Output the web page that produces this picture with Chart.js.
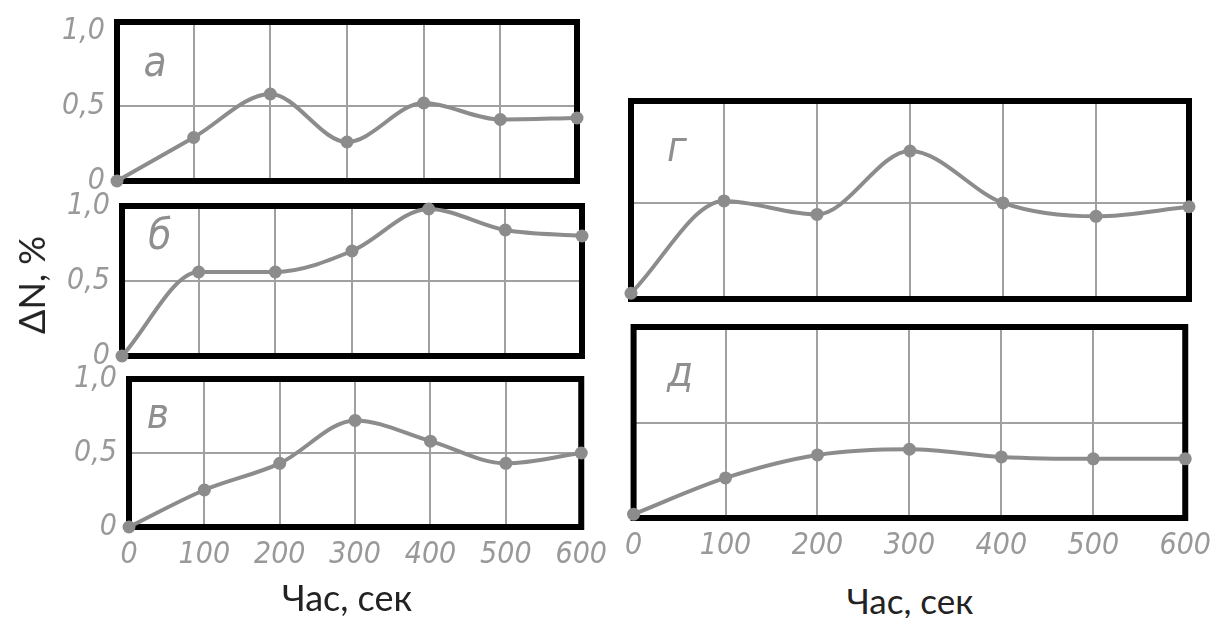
<!DOCTYPE html>
<html>
<head>
<meta charset="utf-8">
<script src="https://cdn.jsdelivr.net/npm/chart.js@4"></script>
<style>
html,body{margin:0;padding:0;background:#fff;overflow:hidden;}
#page{position:relative;width:1215px;height:618px;}
.panel{position:absolute;}
.letter{position:absolute;transform:translate(-50%,-50%);font-family:'Liberation Sans Narrow','DejaVu Sans Condensed',sans-serif;font-style:italic;color:#8f8f8f;font-size:42px;line-height:1;}
.title{position:absolute;transform:translate(-50%,-50%);font-family:Lato,'Open Sans',sans-serif;color:#222;white-space:nowrap;line-height:1;}
</style>
</head>
<body>
<div id="page"></div>
<script>
// data
const times = ['0', '100', '200', '300', '400', '500', '600'];
const valuesA = [0, 0.29, 0.58, 0.26, 0.52, 0.41, 0.42];
const valuesB = [0, 0.56, 0.56, 0.70, 0.98, 0.84, 0.80];
const valuesV = [0, 0.25, 0.43, 0.72, 0.58, 0.43, 0.50];
const valuesG = [0.03, 0.51, 0.44, 0.77, 0.50, 0.43, 0.48];
const valuesD = [0.02, 0.21, 0.33, 0.36, 0.32, 0.31, 0.31];
const yTicks = [0, 0.5, 1.0];
const yTickLabels = ['0', '0,5', '1,0'];
const letters = ['а', 'б', 'в', 'г', 'д'];

const grey = '#8c8c8c';
const gridGrey = '#a0a0a0';
const tickFont = {family: "'Liberation Sans Narrow', 'DejaVu Sans Condensed', sans-serif", style: 'italic', size: 30};

const page = document.getElementById('page');

const framePlugin = {
    id: 'frame',
    beforeDatasetsDraw(chart){
        const a = chart.chartArea;
        const ctx = chart.ctx;
        ctx.save();
        ctx.lineWidth = 6;
        ctx.strokeStyle = '#000';
        ctx.strokeRect(a.left, a.top, a.right - a.left, a.bottom - a.top);
        ctx.restore();
    }
};

// frame = [left, top, right, bottom] in page pixels
const panels = [
    {values: valuesA, frame: [117, 22, 577, 181], yMax: 1.06, yLabels: true, xLabels: false, letterPos: [155, 62]},
    {values: valuesB, frame: [122, 206, 582, 356], yMax: 1.0, yLabels: true, xLabels: false, letterPos: [160, 235]},
    {values: valuesV, frame: [129, 379, 585, 527], yMax: 1.0, yLabels: true, xLabels: true, letterPos: [158, 414]},
    {values: valuesG, frame: [631, 101, 1189, 299], yMax: 1.03, yLabels: false, xLabels: false, letterPos: [677, 147]},
    {values: valuesD, frame: [631, 327, 1189, 518], yMax: 1.0, yLabels: false, xLabels: true, letterPos: [680, 372]}
];

panels.forEach(function(p, i){
    const yW = p.yLabels ? 70 : 0;
    const xH = p.xLabels ? 52 : 0;
    // room for the y tick labels that stick out above / below the frame
    const padT = 34, padR = 32;
    const padB = p.xLabels ? 0 : 34;
    const padL = p.yLabels ? 0 : 16;
    const fw = p.frame[2] - p.frame[0];
    const fh = p.frame[3] - p.frame[1];

    const div = document.createElement('div');
    div.className = 'panel';
    div.style.left = (p.frame[0] - yW - padL) + 'px';
    div.style.top = (p.frame[1] - padT) + 'px';
    div.style.width = (padL + yW + fw + padR) + 'px';
    div.style.height = (padT + fh + xH + padB) + 'px';
    const canvas = document.createElement('canvas');
    div.appendChild(canvas);
    page.appendChild(div);

    new Chart(canvas, {
        type: 'line',
        data: {
            labels: times,
            datasets: [{
                data: p.values,
                borderColor: grey,
                borderWidth: 4,
                backgroundColor: grey,
                pointRadius: 6.5,
                pointBorderWidth: 0,
                pointBackgroundColor: grey,
                cubicInterpolationMode: 'monotone',
                clip: false
            }]
        },
        options: {
            animation: false,
            responsive: true,
            maintainAspectRatio: false,
            layout: {padding: {top: padT, right: padR, bottom: padB, left: padL}},
            plugins: {legend: {display: false}, tooltip: {enabled: false}},
            scales: {
                x: {
                    offset: false,
                    border: {display: false},
                    grid: {
                        drawTicks: false,
                        lineWidth: 2,
                        color: ctx => (ctx.index > 0 && ctx.index < times.length - 1) ? gridGrey : 'rgba(0,0,0,0)'
                    },
                    ticks: {display: p.xLabels, color: '#999', font: tickFont, padding: 10, maxRotation: 0, autoSkip: false},
                    afterFit: s => { s.height = xH; }
                },
                y: {
                    min: 0,
                    max: p.yMax,
                    border: {display: false},
                    afterBuildTicks: s => { s.ticks = yTicks.map(v => ({value: v})); },
                    grid: {
                        drawTicks: false,
                        lineWidth: 2,
                        color: ctx => (ctx.tick && ctx.tick.value === 0.5) ? gridGrey : 'rgba(0,0,0,0)'
                    },
                    ticks: {
                        display: p.yLabels,
                        color: '#999',
                        font: tickFont,
                        padding: 12,
                        callback: v => yTickLabels[yTicks.indexOf(v)]
                    },
                    afterFit: s => { s.width = yW; }
                }
            }
        },
        plugins: [framePlugin]
    });

    const l = document.createElement('div');
    l.className = 'letter';
    l.textContent = letters[i];
    l.style.left = p.letterPos[0] + 'px';
    l.style.top = p.letterPos[1] + 'px';
    page.appendChild(l);
});

function addTitle(text, x, y, size, rotate){
    const t = document.createElement('div');
    t.className = 'title';
    t.textContent = text;
    t.style.left = x + 'px';
    t.style.top = y + 'px';
    t.style.fontSize = size + 'px';
    if(rotate){
        t.style.transform = 'translate(-50%,-50%) rotate(-90deg)';
    }
    page.appendChild(t);
}
addTitle('Час, сек', 347, 597, 36, false);
addTitle('Час, сек', 910, 600, 35, false);
addTitle('ΔN, %', 31, 285, 36, true);
</script>
</body>
</html>
